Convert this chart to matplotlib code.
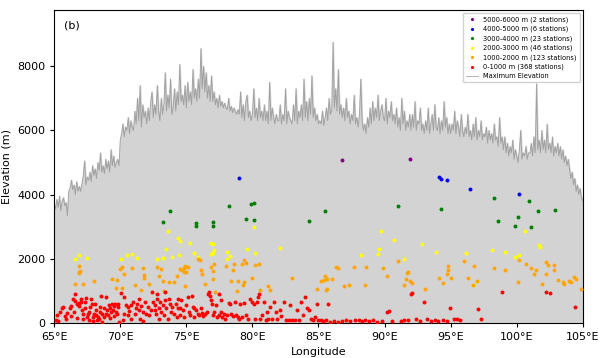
import matplotlib
matplotlib.use("Agg")
import matplotlib.pyplot as plt
import numpy as np

# ---------------- data ----------------
profile_start = 65.0
profile_step = 0.1
max_elev = [
    3700, 3550, 3850, 3600, 3950, 3500, 3800, 3900, 3650, 3750,
    3350, 4100, 4200, 4450, 4150, 4300, 4000, 4400, 4100, 4250,
    4100, 4350, 4600, 5050, 4300, 4550, 4450, 4700, 4400, 4900,
    4600, 4800, 4500, 5000, 4750, 5300, 4700, 4900, 4650, 5100,
    4800, 5050, 4700, 5400, 4900, 5200, 4850, 5000, 5100, 4900,
    5700, 5900, 6200, 5800, 6100, 6000, 6400, 5900, 6300, 6100,
    6000, 6600, 6200, 7000, 6300, 7400, 6100, 6800, 6400, 6600,
    6200, 6700, 6300, 6900, 7200, 6400, 6800, 6500, 7400, 6600,
    6300, 7000, 6500, 6800, 7800, 6600, 7100, 6700, 7600, 6500,
    6700, 7300, 6600, 7200, 6800, 8050, 6900, 7100, 6800, 7400,
    6700, 7500, 6900, 7200, 6800, 7900, 7000, 7300, 6900, 7600,
    7000, 8550, 7300, 8000, 7200, 7800, 7000, 7400, 6900, 7700,
    6900, 7200, 6800, 7000, 6700, 7100, 6750, 6900, 6700, 6850,
    6700, 6650, 7000, 6600, 6750, 6550, 6700, 6600, 6500, 6650,
    6500, 7200, 6400, 6800, 6300, 6900, 7100, 6400, 6600, 6300,
    6500, 7300, 6400, 6700, 6300, 7000, 6400, 6600, 6300, 6800,
    6300, 6600, 6200, 7500, 6300, 6700, 6400, 6200, 6500, 6300,
    6300, 6800, 6200, 6500, 6300, 7300, 6200, 6600, 6400, 6300,
    6200, 6800, 6300, 7300, 6200, 6600, 6400, 6800, 6300, 7600,
    6400, 6900, 6300, 7000, 6500, 7700, 6400, 6700, 6300, 6500,
    6200, 6300, 6200, 6600, 6150, 6400, 6700, 6300, 7000, 6500,
    6600, 8750, 6700, 7300, 6600, 7900, 6500, 6800, 6400, 6700,
    6300, 7000, 6400, 6600, 6200, 6500, 6300, 7100, 6200, 6400,
    6100, 6500, 7600, 6300, 6000, 6200, 5900, 6400, 6100, 6700,
    6200, 6900, 6300, 6700, 6400, 7100, 6300, 6600, 6800, 6400,
    6300, 7000, 6200, 6600, 6400, 6900, 6300, 6500, 6200, 6700,
    6100, 6400, 6000, 7000, 6200, 6600, 6000, 6300, 6100, 6500,
    6000, 6500, 6100, 6900, 6000, 6300, 6200, 6700, 6000, 6200,
    5900, 6300, 6000, 6700, 5900, 6200, 6500, 6000, 6800, 6100,
    6000, 6400, 5900, 6300, 6000, 6900, 6100, 6400, 5900, 6200,
    5900, 6200, 6000, 6600, 5900, 6300, 6100, 5800, 6500, 6000,
    5800, 6100, 5900, 6500, 5800, 6000, 5700, 6200, 5800, 6400,
    5700, 6000, 5800, 6300, 5700, 5900, 5800, 6100, 5600, 6000,
    5700, 5900, 5600, 6200, 5700, 5800, 5500, 6400, 5600, 5800,
    5400, 5800, 5300, 5600, 5200, 5500, 5300, 5700, 5100, 5400,
    5200, 5000, 5400, 6000, 5100, 5300, 5200, 5500, 5100, 5300,
    5300, 5600, 5200, 5800, 5300, 7450, 5400, 5700, 5300, 6000,
    5400, 5700, 5300, 6200, 5400, 5600, 5300, 5800, 5200, 5500,
    5300, 5600, 5200, 5500, 5100, 5400, 5000, 5200, 4900, 5100,
    4800, 4500, 4700, 4300, 4500, 4100, 4300, 4000, 4200, 3900,
    3800,
]

purple_lon = [86.8, 91.9]
purple_elev = [5080, 5100]

blue_lon = [79.0, 94.1, 94.3, 94.7, 96.5, 100.2]
blue_elev = [4520, 4540, 4500, 4460, 4180, 4020]

green_lon = [73.2, 73.75, 75.7, 75.7, 77.0, 77.0, 78.2, 79.5, 79.9, 80.1, 80.1,
             84.3, 85.5, 91.0, 94.3, 98.3, 98.6, 99.9, 100.1, 100.9, 101.1,
             101.6, 102.9]
green_elev = [3140, 3490, 3110, 3020, 3160, 3010, 3630, 3230, 3690, 3730, 3200,
              3190, 3500, 3630, 3540, 3890, 3170, 3030, 3290, 3810, 3000,
              3500, 3510]

yellow_lon = [66.55, 66.9, 67.5, 70.05, 70.5, 70.9, 71.3, 72.8, 73.2, 73.45,
              73.6, 73.9, 74.4, 74.5, 74.45, 75.3, 75.6, 75.9, 76.9, 77.0,
              77.1, 76.9, 77.0, 78.1, 78.3, 78.1, 79.6, 80.1, 80.2, 82.1,
              88.2, 89.5, 89.6, 89.7, 90.7, 91.5, 92.8, 93.9, 96.2, 98.1,
              99.1, 99.9, 100.2, 100.6, 101.7, 101.75]
yellow_elev = [2000, 2130, 2020, 1990, 2130, 2140, 2020, 1990, 2030, 2300,
               2850, 2060, 2660, 2550, 2130, 2500, 2190, 2050, 2500, 2470,
               2280, 2160, 2190, 2210, 2070, 2000, 2310, 2980, 2190, 2350,
               2130, 2140, 2310, 2860, 2570, 1990, 2470, 2210, 2180, 2260,
               2220, 2040, 2110, 2860, 2420, 2380]

orange_lon = [66.55, 66.9, 66.95, 66.9, 66.85, 67.2, 68.0, 69.4, 69.75, 69.65,
              70.0, 70.1, 70.1, 70.3, 70.9, 71.1, 71.7, 71.8, 71.8, 71.6,
              72.2, 72.8, 73.1, 73.2, 73.3, 73.7, 74.1, 74.3, 74.5, 74.7,
              74.8, 74.9, 75.1, 74.8, 74.9, 75.9, 76.0, 76.1, 76.4, 76.9,
              77.0, 77.0, 77.1, 77.2, 78.0, 78.35, 78.5, 78.6, 78.8, 79.2,
              79.4, 79.5, 79.3, 79.4, 80.2, 80.5, 80.6, 81.2, 81.3, 83.0,
              85.2, 85.4, 85.5, 85.65, 85.6, 85.65, 86.0, 86.3, 86.5, 87.3,
              87.7, 88.5, 88.6, 89.9, 90.2, 91.05, 91.5, 91.6, 91.7, 91.8,
              91.95, 93.05, 94.1, 94.4, 94.8, 94.8, 94.75, 95.0, 96.0, 96.35,
              96.7, 96.8, 98.3, 99.1, 100.2, 100.1, 100.7, 101.1, 101.3, 101.45,
              101.95, 102.2, 102.35, 102.2, 102.8, 102.8, 103.1, 103.5, 103.55, 103.95,
              104.1, 104.35, 104.5, 104.9, 72.9, 75.0, 76.2, 78.9, 80.0, 84.9,
              86.9, 92.1, 97.0]
orange_elev = [1220, 1590, 1620, 1770, 1560, 1220, 1300, 1380, 1350, 1100,
               1690, 1740, 1100, 1510, 1720, 1190, 1720, 1490, 1400, 1040,
               1200, 1750, 1680, 1300, 1000, 1260, 1260, 1470, 1680, 1640,
               1710, 1770, 1740, 1580, 1140, 2000, 1950, 1660, 1200, 1740,
               1620, 1380, 1850, 970, 1770, 1300, 1660, 1850, 980, 1850,
               1950, 1870, 1170, 1280, 1800, 1850, 1040, 1140, 1020, 1410,
               1300, 1350, 1460, 1380, 1020, 1070, 1380, 1740, 1710, 1190,
               1740, 1190, 1740, 1710, 1460, 1920, 1190, 1380, 1560, 1590,
               1310, 1050, 1410, 1240, 1770, 1640, 1510, 1400, 1920, 1410,
               1170, 1770, 1710, 1660, 1970, 1280, 1850, 1720, 1510, 1660,
               1200, 1900, 1790, 1510, 1810, 1660, 1350, 1280, 1200, 1310,
               1280, 1430, 1360, 1070, 1450, 1600, 1520, 1300, 1400, 1050,
               1150, 1250, 1300]

red_lon = [
    65.1, 65.2, 65.3, 65.45, 65.6, 65.65, 65.8, 65.9,
    66.0, 66.2, 66.25, 66.45, 66.55, 66.5, 66.6, 66.75, 66.85, 66.9, 66.3, 66.7,
    67.0, 67.05, 67.1, 67.2, 67.3, 67.35, 67.4, 67.5, 67.55, 67.6, 67.7, 67.75,
    67.85, 67.9, 67.95, 67.15, 67.65,
    68.05, 68.15, 68.2, 68.25, 68.35, 68.45, 68.5, 68.55, 68.65, 68.75, 68.8,
    68.9, 68.95, 68.1, 68.6, 68.4,
    69.0, 69.1, 69.15, 69.25, 69.3, 69.4, 69.45, 69.5, 69.6, 69.65, 69.75,
    69.8, 69.9, 69.2, 69.55, 69.85,
    70.05, 70.25, 70.2, 70.4, 70.55, 70.7, 70.85, 70.95, 70.6, 70.3, 70.8,
    71.1, 71.2, 71.3, 71.4, 71.5, 71.6, 71.7, 71.85, 71.95, 71.45, 71.75,
    72.1, 72.2, 72.35, 72.45, 72.6, 72.7, 72.75, 72.8, 72.9, 72.95, 72.65, 72.4,
    73.0, 73.1, 73.2, 73.3, 73.4, 73.5, 73.6, 73.75, 73.85, 73.95, 73.35, 73.7,
    74.1, 74.2, 74.35, 74.4, 74.5, 74.6, 74.75, 74.85, 74.95, 74.3, 74.55,
    75.1, 75.2, 75.3, 75.4, 75.5, 75.6, 75.7, 75.85, 75.95, 75.55,
    76.1, 76.2, 76.3, 76.45, 76.55, 76.65, 76.7, 76.8, 76.9, 76.95, 77.0,
    77.1, 77.25, 77.35, 77.5, 77.6, 77.7, 77.85, 77.95, 77.45, 77.65,
    78.05, 78.2, 78.3, 78.4, 78.55, 78.65, 78.75, 78.9, 79.0,
    79.1, 79.25, 79.4, 79.5, 79.7, 79.85, 80.0,
    80.1, 80.2, 80.35, 80.45, 80.5, 80.6, 80.7, 80.85, 81.0,
    81.1, 81.2, 81.3, 81.5, 81.6, 81.8, 81.9,
    82.1, 82.2, 82.4, 82.55, 82.75, 82.85,
    83.0, 83.2, 83.35, 83.55, 83.65, 83.85, 83.95,
    84.1, 84.25, 84.4, 84.6, 84.75, 84.9,
    85.0, 85.2, 85.35, 85.6, 85.7, 85.85,
    86.2, 86.45, 86.75, 87.1, 87.35, 87.75, 88.05, 88.3, 88.55, 88.85, 89.15,
    89.4, 89.8,
    90.2, 90.35, 90.6, 91.25, 91.5, 91.8, 92.0, 92.1, 92.35, 92.7, 93.0, 93.2,
    93.5, 93.85, 94.05, 94.45, 94.7, 94.95, 95.25, 95.5, 95.7,
    97.1, 97.3, 98.9, 102.2, 102.5, 104.4,
]
red_elev = [
    100, 240, 60, 340, 450, 500, 210, 130,
    310, 450, 520, 730, 910, 340, 670, 580, 620, 520, 200, 150,
    650, 760, 390, 290, 450, 650, 790, 190, 270, 340, 500, 760,
    600, 190, 50, 120, 80,
    290, 390, 240, 80, 190, 340, 500, 830, 270, 190, 450,
    810, 290, 600, 40, 120,
    390, 240, 550, 450, 340, 600, 390, 520, 580, 340, 290,
    500, 20, 150, 200, 600,
    930, 810, 80, 550, 240, 370, 130, 650, 500, 290, 550,
    290, 450, 600, 410, 130, 520, 340, 650, 290, 730, 60,
    500, 240, 390, 650, 550, 290, 910, 760, 450, 130, 410, 960,
    650, 340, 550, 240, 700, 450, 130, 600, 340, 500, 960, 760,
    290, 600, 760, 450, 240, 700, 390, 190, 550, 190, 450,
    810, 340, 240, 830, 500, 190, 390, 290, 240, 450,
    450, 310, 210, 290, 340, 910, 960, 830, 700, 580, 240,
    340, 550, 190, 240, 340, 190, 290, 130, 910, 700,
    240, 620, 580, 290, 210, 650, 240, 190, 130,
    600, 190, 620, 240, 130, 760, 650,
    580, 130, 650, 810, 890, 130, 240, 650, 80,
    340, 130, 500, 130, 650, 340, 130,
    410, 210, 650, 80, 80, 550,
    80, 80, 390, 80, 650, 240, 810,
    450, 390, 130, 80, 190, 600,
    80, 100, 60, 80, 600, 30,
    60, 30, 60, 80, 60, 80, 100, 60, 80, 60, 80,
    30, 60,
    340, 370, 60, 60, 100, 80, 890, 930, 130, 60, 650, 130,
    60, 100, 60, 80, 60, 480, 130, 130, 100,
    440, 135, 970, 970, 940, 500,
]

x_ticks = [65, 70, 75, 80, 85, 90, 95, 100, 105]
y_ticks = [0, 2000, 4000, 6000, 8000]

groups = [
    ("5000-6000 m (2 stations)", "purple", purple_lon, purple_elev),
    ("4000-5000 m (6 stations)", "blue", blue_lon, blue_elev),
    ("3000-4000 m (23 stations)", "green", green_lon, green_elev),
    ("2000-3000 m (46 stations)", "yellow", yellow_lon, yellow_elev),
    ("1000-2000 m (123 stations)", "orange", orange_lon, orange_elev),
    ("0-1000 m (368 stations)", "red", red_lon, red_elev),
]

# ---------------- plot ----------------
fig = plt.figure(figsize=(6.02, 3.58), dpi=100)
ax = fig.add_axes([0.09, 0.098, 0.878, 0.874])

lons = profile_start + profile_step * np.arange(len(max_elev))
ax.fill_between(lons, 0, max_elev, color="lightgray", zorder=1)
line, = ax.plot(lons, max_elev, color="gray", alpha=0.6, lw=0.7, zorder=2,
                label="Maximum Elevation")

handles = []
for label, color, lo, el in groups:
    h = ax.scatter(lo, el, s=8, color=color, zorder=3, label=label,
                   linewidths=0)
    handles.append(h)
handles.append(line)

ax.set_xlim(65, 105)
ax.set_ylim(0, 9750)
ax.set_xticks(x_ticks)
ax.set_xticklabels([f"{t}°E" for t in x_ticks])
ax.set_yticks(y_ticks)
ax.tick_params(labelsize=8, length=3)
ax.set_xlabel("Longitude", fontsize=8)
ax.set_ylabel("Elevation (m)", fontsize=8)
ax.text(0.018, 0.965, "(b)", transform=ax.transAxes, fontsize=8,
        va="top", ha="left")

ax.legend(handles=handles, loc="upper right", fontsize=4.8,
          markerscale=0.8, handlelength=1.8, handletextpad=0.8,
          labelspacing=0.45, borderpad=0.5, borderaxespad=0.4,
          framealpha=0.9)

fig.savefig("out.png", dpi=100)
